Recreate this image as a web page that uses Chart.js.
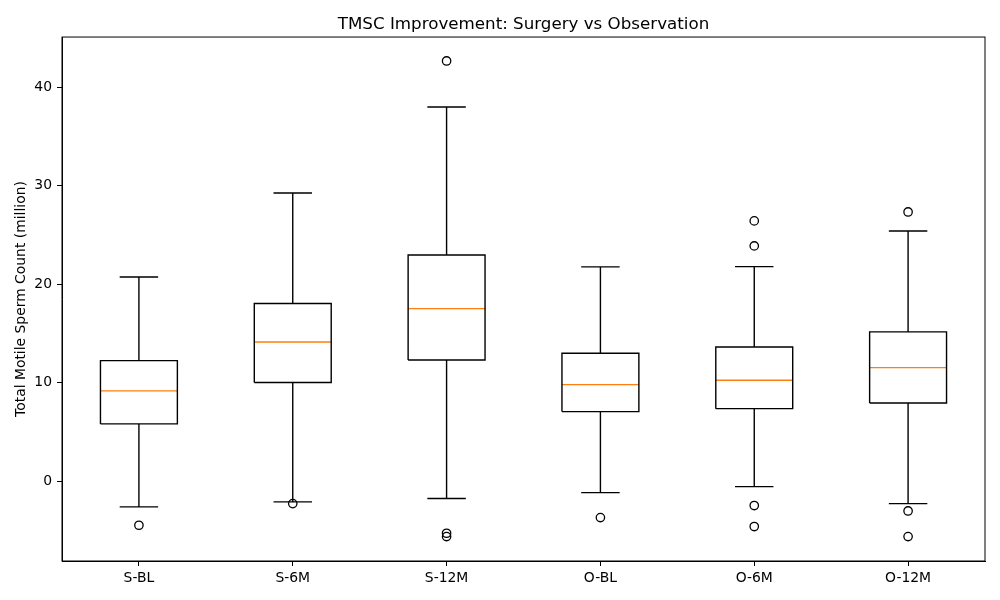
<!DOCTYPE html>
<html>
<head>
<meta charset="utf-8">
<script src="https://cdn.jsdelivr.net/npm/chart.js@4/dist/chart.umd.min.js"></script>
<style>
  body { margin: 0; background: #fff; }
</style>
</head>
<body>
<canvas id="chart" width="1000" height="600"></canvas>
<script>
// values
var groups = ["S-BL", "S-6M", "S-12M", "O-BL", "O-6M", "O-12M"];
var whiskerLow = [-2.6, -2.1, -1.76, -1.16, -0.55, -2.27];
var q1 = [5.82, 10.02, 12.31, 7.07, 7.37, 7.95];
var median = [9.17, 14.14, 17.52, 9.81, 10.25, 11.53];
var q3 = [12.25, 18.04, 22.97, 13.0, 13.63, 15.16];
var whiskerHigh = [20.74, 29.27, 38.0, 21.76, 21.79, 25.41];
var outliers = [
  [-4.47],
  [-2.27],
  [42.67, -5.28, -5.62],
  [-3.69],
  [26.43, 23.89, -2.47, -4.6],
  [27.34, -3.02, -5.62]
];
var yTicks = [0, 10, 20, 30, 40];

var boxHalf = 0.25;
var capHalf = 0.125;
var fontFamily = "'DejaVu Sans', sans-serif";

function gap(x) {
  return { x: x, y: null };
}

var boxPoints = [];
var whiskerPoints = [];
var medianPoints = [];
var outlierPoints = [];

groups.forEach(function (name, i) {
  var x = i + 1;
  boxPoints.push(
    { x: x - boxHalf, y: q1[i] },
    { x: x + boxHalf, y: q1[i] },
    { x: x + boxHalf, y: q3[i] },
    { x: x - boxHalf, y: q3[i] },
    { x: x - boxHalf, y: q1[i] },
    gap(x)
  );
  whiskerPoints.push(
    { x: x, y: q1[i] }, { x: x, y: whiskerLow[i] }, gap(x),
    { x: x - capHalf, y: whiskerLow[i] }, { x: x + capHalf, y: whiskerLow[i] }, gap(x),
    { x: x, y: q3[i] }, { x: x, y: whiskerHigh[i] }, gap(x),
    { x: x - capHalf, y: whiskerHigh[i] }, { x: x + capHalf, y: whiskerHigh[i] }, gap(x)
  );
  medianPoints.push(
    { x: x - boxHalf, y: median[i] },
    { x: x + boxHalf, y: median[i] },
    gap(x)
  );
  outliers[i].forEach(function (v) {
    outlierPoints.push({ x: x, y: v });
  });
});

var framePlugin = {
  id: "frame",
  afterDraw: function (chart) {
    var a = chart.chartArea;
    var ctx = chart.ctx;
    ctx.save();
    ctx.strokeStyle = "#000";
    ctx.lineWidth = 1;
    ctx.strokeRect(a.left, a.top, a.right - a.left, a.bottom - a.top);
    ctx.restore();
  }
};

var lineStyle = {
  type: "line",
  borderWidth: 1.4,
  pointRadius: 0,
  fill: false,
  tension: 0,
  spanGaps: false
};

new Chart(document.getElementById("chart").getContext("2d"), {
  type: "line",
  data: {
    datasets: [
      Object.assign({ data: boxPoints, borderColor: "#000" }, lineStyle),
      Object.assign({ data: whiskerPoints, borderColor: "#000" }, lineStyle),
      Object.assign({ data: medianPoints, borderColor: "#ff7f0e" }, lineStyle),
      {
        type: "scatter",
        data: outlierPoints,
        showLine: false,
        pointStyle: "circle",
        pointRadius: 4.2,
        borderWidth: 1.3,
        borderColor: "#000",
        backgroundColor: "rgba(0,0,0,0)"
      }
    ]
  },
  options: {
    responsive: false,
    animation: false,
    layout: { padding: { left: 0, right: 15, top: 0, bottom: 0 } },
    plugins: {
      legend: { display: false },
      tooltip: { enabled: false },
      title: {
        display: true,
        fullSize: false,
        text: "TMSC Improvement: Surgery vs Observation",
        color: "#000",
        font: { family: fontFamily, size: 16.7, weight: "normal", lineHeight: 1.2 },
        padding: { top: 15, bottom: 2 }
      }
    },
    scales: {
      x: {
        type: "linear",
        min: 0.5,
        max: 6.5,
        afterBuildTicks: function (scale) {
          scale.ticks = groups.map(function (g, i) { return { value: i + 1 }; });
        },
        afterFit: function (scale) { scale.height = 39; },
        ticks: {
          color: "#000",
          padding: 4,
          maxRotation: 0,
          font: { family: fontFamily, size: 13.9 },
          callback: function (value) { return groups[value - 1]; }
        },
        grid: { drawOnChartArea: false, drawTicks: true, tickLength: 5, color: "#000" },
        border: { display: true, color: "#000", width: 1 }
      },
      y: {
        min: -8.1,
        max: 45.1,
        afterBuildTicks: function (scale) {
          scale.ticks = yTicks.map(function (v) { return { value: v }; });
        },
        afterFit: function (scale) { scale.width = 62; },
        ticks: {
          color: "#000",
          padding: 5,
          font: { family: fontFamily, size: 13.9 }
        },
        grid: { drawOnChartArea: false, drawTicks: true, tickLength: 5, color: "#000" },
        border: { display: true, color: "#000", width: 1 },
        title: {
          display: true,
          text: "Total Motile Sperm Count (million)",
          color: "#000",
          font: { family: fontFamily, size: 13.9 },
          padding: { top: 13, bottom: 0 }
        }
      }
    }
  },
  plugins: [framePlugin]
});
</script>
</body>
</html>
